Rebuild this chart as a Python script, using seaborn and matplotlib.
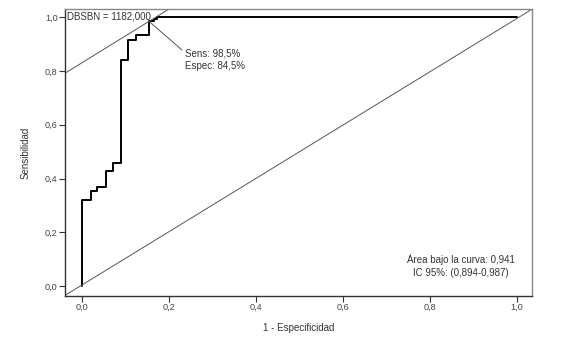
import numpy as np
import pandas as pd
import matplotlib
matplotlib.use('Agg')
import matplotlib.pyplot as plt
import seaborn as sns

# =============================================================================
# DATOS (leídos de la curva ROC)
# =============================================================================
fpr = [0.0, 0.021, 0.036, 0.055, 0.072, 0.090, 0.107, 0.126, 0.155, 0.166, 0.173, 1.0]
tpr = [0.0, 0.320, 0.354, 0.367, 0.427, 0.458, 0.840, 0.915, 0.933, 0.985, 0.993, 1.0]

punto_corte = (0.155, 0.985)   # 1 - Espec, Sens
etiqueta_corte = 'DBSBN = 1182,000'
texto_corte = 'Sens: 98,5%\nEspec: 84,5%'
texto_auc = 'Área bajo la curva: 0,941\nIC 95%: (0,894-0,987)'

ticks = [0.0, 0.2, 0.4, 0.6, 0.8, 1.0]
tick_labels = ['0,0', '0,2', '0,4', '0,6', '0,8', '1,0']

# =============================================================================
# ESTILO
# =============================================================================
sns.set_style('white')
plt.rcParams['font.family'] = ['Liberation Sans', 'DejaVu Sans']
TAM = 6.6
GRIS_TXT = '#333333'

fig = plt.figure(figsize=(5.82, 3.43), dpi=100)
ax = fig.add_axes([0.111, 0.138, 0.803, 0.835])

df = pd.DataFrame({'fpr': fpr, 'tpr': tpr})
sns.lineplot(data=df, x='fpr', y='tpr', drawstyle='steps-pre', sort=False,
             estimator=None, color='black', linewidth=1.4, ax=ax)

# diagonal de referencia (esquina a esquina)
ax.plot([0, 1], [0, 1], transform=ax.transAxes, color='#555555', linewidth=0.7)
# tangente por el punto de corte
ax.axline(punto_corte, slope=1, color='#555555', linewidth=0.7)

ax.set_xlim(-0.039, 1.035)
ax.set_ylim(-0.036, 1.030)

ax.annotate(texto_corte, xy=punto_corte, xytext=(0.238, 0.885),
            fontsize=TAM + 0.4, color=GRIS_TXT, ha='left', va='top', linespacing=1.35,
            arrowprops=dict(arrowstyle='-', color='#555555', linewidth=0.7,
                            shrinkA=0, shrinkB=0, relpos=(0, 0.8)))
ax.text(0.006, 0.992, etiqueta_corte, transform=ax.transAxes, fontsize=TAM + 0.4,
        color=GRIS_TXT, ha='left', va='top')
ax.text(0.848, 0.104, texto_auc, transform=ax.transAxes, fontsize=TAM + 0.4,
        color=GRIS_TXT, ha='center', va='center', linespacing=1.35)

ax.set_xticks(ticks)
ax.set_xticklabels(tick_labels)
ax.set_yticks(ticks)
ax.set_yticklabels(tick_labels)
ax.tick_params(axis='both', direction='out', length=4, width=0.8, color='#333333',
               labelsize=TAM, labelcolor='#444444', pad=1.0)
ax.tick_params(axis='both', bottom=True, left=True, top=False, right=False)

ax.set_xlabel('1 - Especificidad', fontsize=TAM + 0.4, color=GRIS_TXT, labelpad=8)
ax.set_ylabel('Sensibilidad', fontsize=TAM + 0.4, color=GRIS_TXT, labelpad=10)

for lado in ['left', 'bottom']:
    ax.spines[lado].set_color('#333333')
    ax.spines[lado].set_linewidth(1.0)
for lado in ['top', 'right']:
    ax.spines[lado].set_color('#888888')
    ax.spines[lado].set_linewidth(1.0)

plt.savefig('out.png', dpi=100)
plt.close()
